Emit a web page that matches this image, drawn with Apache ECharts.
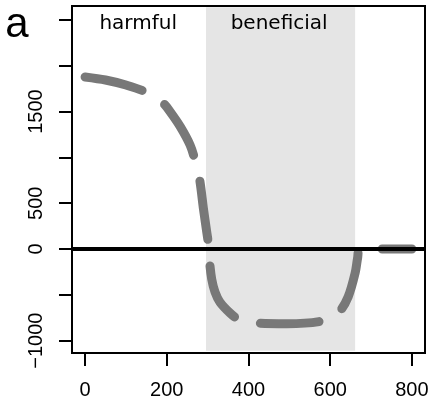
<!DOCTYPE html>
<html><head><meta charset="utf-8">
<script src="https://cdn.jsdelivr.net/npm/echarts@6/dist/echarts.min.js"></script>
<style>html,body{margin:0;padding:0;background:#fff}#c{width:432px;height:406px}</style>
</head><body><div id="c"></div>
<script>
// ---- data ----
const curveX = [0, 50, 100, 154, 193, 208, 233, 257, 269, 280, 290, 298, 302, 305, 310, 318, 330, 355, 375, 421, 494, 583, 622, 644, 661, 667, 672, 700, 800];
const curveY = [1878, 1845, 1790, 1704, 1583, 1500, 1336, 1136, 972, 770, 430, 180, 50, -150, -330, -470, -580, -700, -765, -808, -815, -783, -685, -521, -262, -100, 0, 0, 0];
const xTicks = [0, 200, 400, 600, 800];
const yTicks = [-1000, -500, 0, 500, 1000, 1500, 2000, 2500];
const yLabels = [-1000, 0, 500, 1500];
const regionNames = ['harmful', 'beneficial'];
const regionNameX = [130, 475];
const regionNameY = [2457, 2457];
const beneficialRange = [296, 661];
const panelLetter = 'a';

const xMin = -32, xMax = 832, yMin = -1135, yMax = 2653;

const chart = echarts.init(document.getElementById('c'), null, {renderer: 'canvas'});
const curveData = curveX.map((x, i) => [x, curveY[i]]);
const fmt = v => v < 0 ? '\u2212' + Math.abs(v) : String(v);

chart.setOption({
  animation: false,
  grid: {left: 72, top: 6, right: 7, bottom: 53, show: true, borderColor: '#000', borderWidth: 2, backgroundColor: 'transparent'},
  xAxis: {
    type: 'value', min: xMin, max: xMax,
    axisLine: {show: false, onZero: false}, splitLine: {show: false},
    axisTick: {show: true, length: 13, lineStyle: {color: '#000', width: 2}, customValues: xTicks},
    axisLabel: {customValues: xTicks, fontSize: 20, fontFamily: 'Liberation Sans', color: '#000', margin: 27, formatter: fmt}
  },
  yAxis: {
    type: 'value', min: yMin, max: yMax,
    axisLine: {show: false, onZero: false}, splitLine: {show: false},
    axisTick: {show: true, length: 13, lineStyle: {color: '#000', width: 2}, customValues: yTicks},
    axisLabel: {customValues: yLabels, fontSize: 20, fontFamily: 'Liberation Sans', color: '#000', margin: 26, rotate: 90, formatter: fmt}
  },
  graphic: [{
    type: 'text', x: 17, y: 25,
    style: {text: panelLetter, font: '42px "Liberation Sans"', fill: '#000', align: 'center', verticalAlign: 'middle'}
  }],
  series: [
    {
      type: 'line', data: [], z: 1, silent: true,
      markArea: {
        silent: true,
        itemStyle: {color: '#e5e5e5'},
        data: [[{coord: [beneficialRange[0], -1110]}, {coord: [beneficialRange[1], 2640]}]]
      }
    },
    {
      type: 'line', data: [], z: 2, silent: true,
      markLine: {
        silent: true, symbol: 'none', animation: false,
        label: {show: false},
        lineStyle: {color: '#000', width: 4, type: 'solid'},
        data: [{yAxis: 0}]
      }
    },
    {
      type: 'line', data: curveData, z: 3, showSymbol: false, smooth: 0.3,
      lineStyle: {color: '#787878', width: 9, type: [58.5, 27], cap: 'round', join: 'round'}
    },
    {
      type: 'line', data: [], z: 4, silent: true,
      markPoint: {
        silent: true, symbol: 'circle', symbolSize: 0,
        itemStyle: {color: 'transparent'},
        label: {show: true, position: 'inside', formatter: p => p.name, fontSize: 20, fontFamily: 'DejaVu Sans', color: '#000'},
        data: regionNames.map((n, i) => ({name: n, coord: [regionNameX[i], regionNameY[i]]}))
      }
    }
  ]
});
</script></body></html>
